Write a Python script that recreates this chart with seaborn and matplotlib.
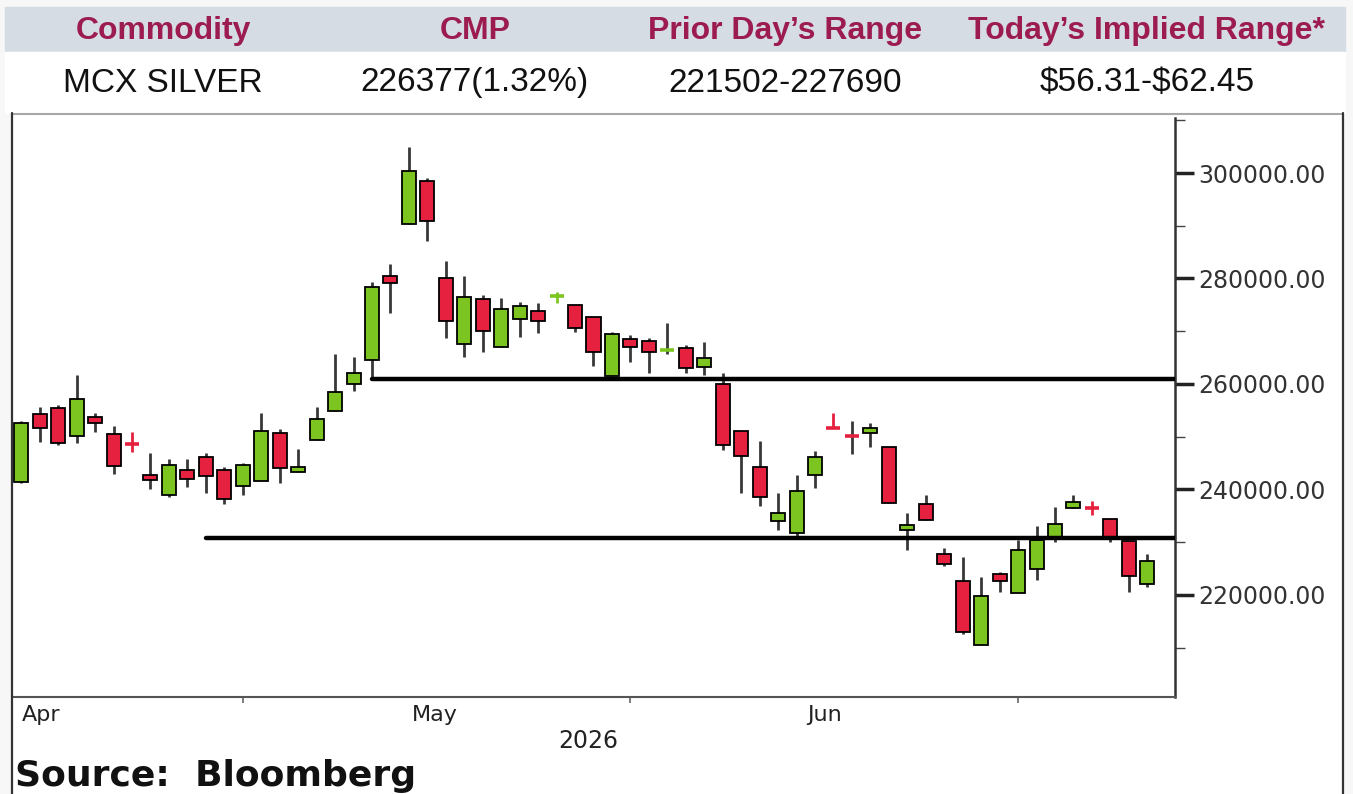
import matplotlib
matplotlib.use("Agg")
import numpy as np
import pandas as pd
import matplotlib.pyplot as plt
import seaborn as sns
from matplotlib.patches import Rectangle
from matplotlib.lines import Line2D
from matplotlib import font_manager

# Header table
head_cols = ["Commodity", "CMP", "Prior Day\u2019s Range", "Today\u2019s Implied Range*"]
head_vals = ["MCX SILVER", "226377(1.32%)", "221502-227690", r"\$56.31-\$62.45"]

# Daily candles (MCX silver)
opens = [241400, 254300, 255400, 250100, 253700, 250500, 248900, 242700, 239000, 243700,
         246200, 243700, 240700, 241600, 250700, 243300, 249400, 254900, 260000, 264600,
         280500, 290300, 298500, 280100, 267600, 276100, 267000, 272300, 273800, 276600,
         275000, 272700, 261500, 268500, 268200, 266400, 266800, 263200, 260000, 251100,
         244300, 234000, 231700, 242700, 251700, 250200, 250700, 248100, 232300, 237200,
         227800, 222600, 210500, 224000, 220400, 224900, 230800, 236500, 236500, 234400,
         230200, 222100]
highs = [252900, 255600, 256000, 261700, 254500, 252000, 250900, 246900, 245800, 245800,
         246900, 244300, 245000, 254500, 251500, 247700, 255600, 265700, 265100, 279300,
         282800, 304900, 299100, 283300, 280500, 276900, 276300, 275500, 275400, 277400,
         275000, 272700, 269900, 269300, 268700, 271600, 267400, 268000, 262100, 251100,
         249200, 239300, 242700, 247300, 254500, 253000, 252600, 248100, 235500, 239000,
         228900, 227200, 223400, 224400, 230400, 233100, 236700, 239000, 237800, 234400,
         230200, 227690]
lows = [241300, 249000, 248400, 248800, 250900, 242900, 247100, 240100, 238600, 240500,
        239300, 237200, 239000, 241600, 241200, 243300, 249400, 254900, 258700, 261100,
        273500, 290300, 287100, 268700, 265100, 266100, 267000, 268900, 269700, 275400,
        269900, 263400, 261500, 264200, 262100, 265700, 262100, 261700, 247500, 239300,
        236900, 232300, 231200, 240300, 251600, 246700, 248100, 237400, 228500, 234200,
        225500, 212600, 210500, 220600, 220400, 222800, 230000, 236500, 235200, 230000,
        220600, 221502]
closes = [252600, 251700, 248800, 257200, 252600, 244500, 248700, 241800, 244600, 242000,
          242600, 238200, 244600, 251100, 244100, 244300, 253400, 258500, 262100, 278400,
          279100, 300400, 290900, 271900, 276500, 270000, 274200, 274800, 271900, 276700,
          270600, 266100, 269500, 267000, 266100, 266500, 263000, 264900, 248400, 246300,
          238600, 235500, 239700, 246200, 251600, 250100, 251700, 237400, 233300, 234200,
          225900, 213000, 219800, 222600, 228500, 230400, 233500, 237600, 236400, 230800,
          223600, 226377]

# support / resistance levels and the candle they start from
levels = [261000, 230800]
level_start = [19, 10]

# x axis
month_labels = ["Apr", "May", "Jun"]
month_pos = [1.1, 22.4, 43.5]
month_ticks = [12, 33, 54]
year_label = "2026"
y_major = [220000, 240000, 260000, 280000, 300000]
y_minor = [210000, 230000, 250000, 270000, 290000, 310000]

df = pd.DataFrame({"open": opens, "high": highs, "low": lows, "close": closes})
df["x"] = np.arange(len(df))

sns.set_theme(style="white")
plt.rcParams["font.family"] = ["DejaVu Sans"]

W, H = 1353, 794


def fx(px):
    return px / W


def fy(py):
    return 1 - py / H


fig = plt.figure(figsize=(W / 100, H / 100), dpi=100, facecolor="#f7f7f7")

# table backgrounds
fig.patches.append(Rectangle((fx(5), fy(52)), fx(1345) - fx(5), fy(7) - fy(52),
                             transform=fig.transFigure, color="#d6dce4", zorder=-5))
fig.patches.append(Rectangle((fx(5), fy(113)), fx(1345) - fx(5), fy(52) - fy(113),
                             transform=fig.transFigure, color="white", zorder=-5))
fig.patches.append(Rectangle((fx(12), fy(794)), fx(1343) - fx(12), fy(113) - fy(794),
                             transform=fig.transFigure, color="white", zorder=-5))
fig.lines.append(Line2D([fx(12), fx(1343)], [fy(113.5), fy(113.5)], transform=fig.transFigure,
                        color="#a8a8a8", lw=1.5))
fig.lines.append(Line2D([fx(12), fx(12)], [fy(113), fy(794)], transform=fig.transFigure,
                        color="#333333", lw=1.6))
fig.lines.append(Line2D([fx(1343), fx(1343)], [fy(113), fy(794)], transform=fig.transFigure,
                        color="#333333", lw=1.6))

# header fonts
names = {f.name for f in font_manager.fontManager.ttflist}
if "Liberation Sans Narrow" in names:
    head_family, head_size = "Liberation Sans Narrow", 27
else:
    head_family, head_size = "Liberation Sans", 23

col_x = [163, 475, 785, 1147]
for cx, head, val in zip(col_x, head_cols, head_vals):
    fig.text(fx(cx), fy(31), head, ha="center", va="center", color="#9c1c50",
             fontsize=head_size, fontweight="bold", family=[head_family, "DejaVu Sans"])
    fig.text(fx(cx), fy(83), val, ha="center", va="center", color="#111111",
             fontsize=24, family=["Liberation Sans", "DejaVu Sans"])

# chart
ax = fig.add_axes([fx(12), fy(697), fx(1175) - fx(12), fy(118) - fy(697)])
ax.set_facecolor("none")
ax.set_zorder(2)

w = 0.76
doji = (df["close"] - df["open"]).abs() < 400
up = df["close"] >= df["open"]
fill = np.where(up, "#7cc520", "#e6203f")

body = df[~doji]
ax.vlines(body["x"], body["low"], body["high"], color="#383838", lw=2, zorder=2)
ax.bar(body["x"], (body["close"] - body["open"]).abs(),
       bottom=body[["open", "close"]].min(axis=1), width=w,
       color=fill[~doji.values], edgecolor="black", linewidth=1.3, zorder=3)

# doji: short ones drawn as coloured crosses, longer ones keep a dark wick
dj = df[doji]
dj_fill = fill[doji.values]
wick_col = np.where((dj["high"] - dj["low"]) < 4000, dj_fill, "#383838")
ax.vlines(dj["x"], dj["low"], dj["high"], color=wick_col, lw=2, zorder=2)
ax.hlines(dj["close"], dj["x"] - w / 2, dj["x"] + w / 2, color=dj_fill, lw=2.6, zorder=3)

for lvl, s in zip(levels, level_start):
    sns.lineplot(x=[s, 62.5], y=[lvl, lvl], color="black", lw=3.2, ax=ax, zorder=4)

ax.set_xlim(-0.5, 62.5)
ax.set_ylim(200650, 310430)

for side in ["top", "left"]:
    ax.spines[side].set_visible(False)
ax.spines["right"].set_color("#333333")
ax.spines["right"].set_linewidth(1.8)
ax.spines["bottom"].set_color("#555555")
ax.spines["bottom"].set_linewidth(1.5)

ax.yaxis.tick_right()
ax.set_yticks(y_major, labels=[f"{v:.2f}" for v in y_major])
ax.set_yticks(y_minor, minor=True)
ax.tick_params(axis="y", which="major", right=True, length=14, width=2.5, color="#222222",
               labelsize=17, labelcolor="#333333", pad=3)
ax.tick_params(axis="y", which="minor", right=True, length=7, width=1, color="#444444")

ax.set_xticks(month_ticks, labels=[""] * len(month_ticks))
ax.set_xticks(month_pos, labels=month_labels, minor=True)
ax.tick_params(axis="x", which="major", bottom=True, length=4, width=1.2, color="#666666")
ax.tick_params(axis="x", which="minor", bottom=True, length=0, labelsize=16,
               labelcolor="#222222", pad=6)
ax.set_xlabel("")
ax.set_ylabel("")

fig.text(fx(588), fy(741), year_label, ha="center", va="center", fontsize=17, color="#222222")
fig.text(fx(15), fy(776), "Source:  Bloomberg", ha="left", va="center", fontsize=26,
         fontweight="bold", color="#111111")

fig.savefig("out.png", dpi=100, facecolor=fig.get_facecolor())
